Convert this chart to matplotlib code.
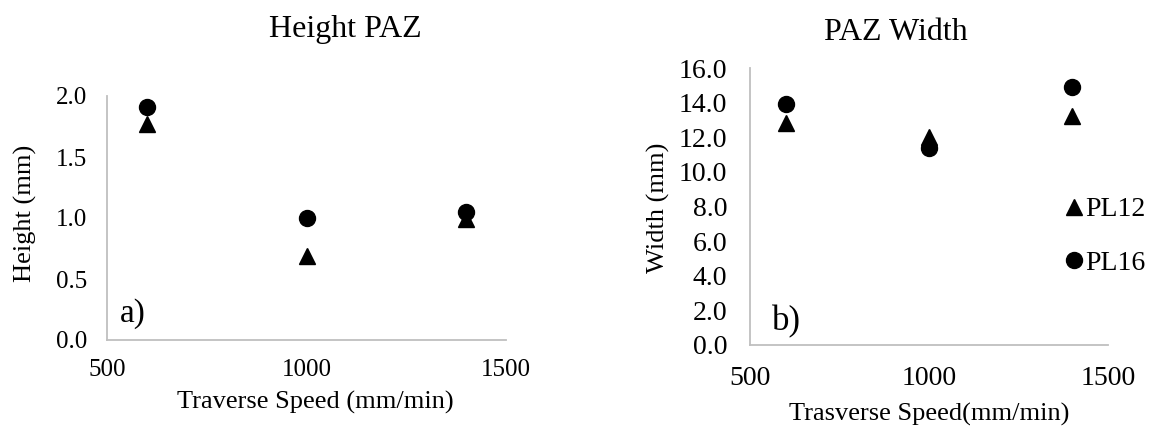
import matplotlib
matplotlib.use("Agg")
import matplotlib.pyplot as plt
from matplotlib.lines import Line2D

plt.rcParams['font.family'] = ['Liberation Serif', 'DejaVu Serif']

speed = [600, 1000, 1400]
height_pl12 = [1.77, 0.69, 0.99]
height_pl16 = [1.91, 1.00, 1.05]
width_pl12 = [12.8, 12.0, 13.2]
width_pl16 = [13.9, 11.4, 14.9]
series_labels = ["PL12", "PL16"]

W, H = 1155, 428
fig = plt.figure(figsize=(W / 100, H / 100), dpi=100)


def px_axes(x0, x1, ytop, ybot):
    return fig.add_axes([x0 / W, 1 - ybot / H, (x1 - x0) / W, (ybot - ytop) / H])


def style(ax, fs, xpad, ypad):
    for s in ("top", "right"):
        ax.spines[s].set_visible(False)
    for s in ("left", "bottom"):
        ax.spines[s].set_color("#bfbfbf")
        ax.spines[s].set_linewidth(1.3)
    ax.tick_params(axis="both", length=0, labelsize=fs)
    ax.tick_params(axis="x", pad=xpad)
    ax.tick_params(axis="y", pad=ypad)
    ax.set_xlim(500, 1500)
    ax.set_xticks([500, 1000, 1500])


def ftext(x, y, s, **kw):
    fig.text(x / W, 1 - y / H, s, **kw)


# a) height of the PAZ
ax1 = px_axes(107, 506, 96, 340)
style(ax1, 18, 14, 14.4)
ht = [0.0, 0.5, 1.0, 1.5, 2.0]
ax1.set_ylim(0, 2.0)
ax1.set_yticks(ht)
ax1.set_yticklabels([f"{v:.1f}" for v in ht])
ax1.plot(speed, height_pl12, linestyle="none", marker="^", color="black", markersize=11)
ax1.plot(speed, height_pl16, linestyle="none", marker="o", color="black", markersize=11.5)
ftext(120, 314, "a)", fontsize=24, ha="left", va="center")
ftext(345, 30, "Height PAZ", fontsize=23, ha="center", va="center")
ftext(315, 402, "Traverse Speed (mm/min)", fontsize=19, ha="center", va="center")
ftext(25, 213, "Height (mm)", fontsize=19, ha="center", va="center", rotation=90)

# b) width of the PAZ
ax2 = px_axes(750, 1108, 68, 345)
style(ax2, 20, 15, 16.5)
wt = [0, 2, 4, 6, 8, 10, 12, 14, 16]
ax2.set_ylim(0, 16.0)
ax2.set_yticks(wt)
ax2.set_yticklabels([f"{v:.1f}" for v in wt])
ax2.plot(speed, width_pl12, linestyle="none", marker="^", color="black", markersize=11)
ax2.plot(speed, width_pl16, linestyle="none", marker="o", color="black", markersize=11.5)
ftext(772, 322, "b)", fontsize=25, ha="left", va="center")
ftext(896, 33, "PAZ Width", fontsize=23, ha="center", va="center")
ftext(929, 414, "Trasverse Speed(mm/min)", fontsize=19, ha="center", va="center")
ftext(658, 208, "Width (mm)", fontsize=19, ha="center", va="center", rotation=90)

handles = [
    Line2D([], [], linestyle="none", marker="^", color="black", markersize=11),
    Line2D([], [], linestyle="none", marker="o", color="black", markersize=11.5),
]
fig.legend(handles, series_labels, loc="upper left", bbox_to_anchor=(1066 / W, 1 - 197 / H),
           frameon=False, fontsize=20, handlelength=0.6, handletextpad=0.1,
           labelspacing=1.0, borderpad=0, borderaxespad=0)

fig.savefig("out.png", dpi=100)
